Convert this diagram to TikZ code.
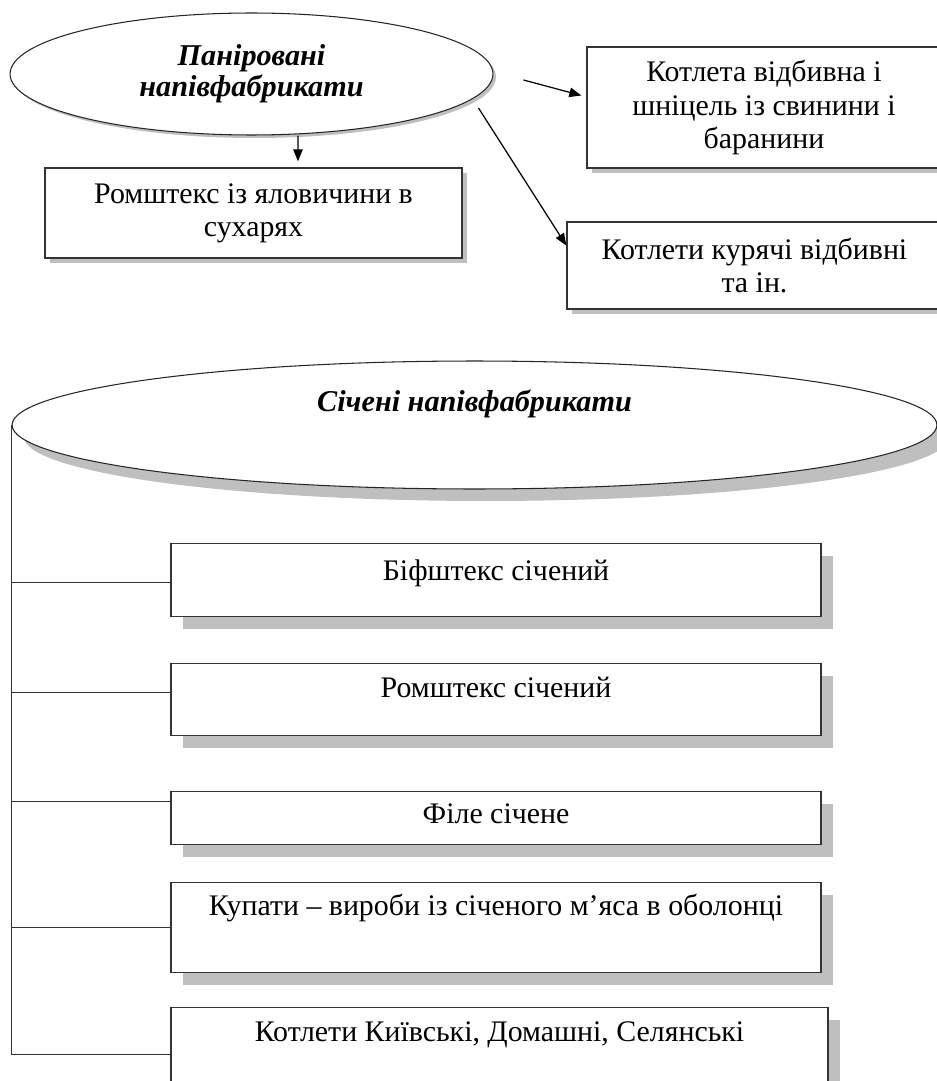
\documentclass[tikz,border=0pt]{standalone}
\usepackage{fontspec}
\setmainfont{Liberation Serif}
\usetikzlibrary{arrows.meta,positioning,shapes.geometric,shadows}

\begin{document}
\begin{tikzpicture}[
    x=0.02cm, y=-0.02cm,
    every node/.style={font=\fontsize{17pt}{18.8pt}\selectfont},
    shad/.style={drop shadow={shadow xshift=#1, shadow yshift=-#1, fill=black!25, opacity=1}},
    oval/.style={ellipse, draw=black!85, line width=0.6pt, fill=white, inner sep=0pt, align=center,
                 font=\fontsize{17.2pt}{17.4pt}\selectfont\bfseries\itshape},
    box/.style={rectangle, draw=black!80, line width=0.8pt, fill=white, inner sep=0pt, align=center},
    arr/.style={-{Triangle[length=2.4mm, width=1.9mm]}, line width=0.7pt},
    link/.style={draw=black!80, line width=0.8pt}
]
    \useasboundingbox (0,0) rectangle (936,1081);

    % panirovani
    \node[oval, shad=0.06cm, minimum width=9.66cm, minimum height=2.44cm] (pan) at (251.5,74)
        {Паніровані\\напівфабрикати};
    \node[box, shad=0.1cm, minimum width=8.34cm, minimum height=1.8cm] (rom) at (253.5,213)
        {Ромштекс із яловичини в\\сухарях};
    \node[box, shad=0.1cm, minimum width=7.08cm, minimum height=2.42cm] (kotbar) at (764,107.5)
        {Котлета відбивна і\\шніцель із свинини і\\баранини};
    \node[box, shad=0.1cm, minimum width=7.5cm, minimum height=1.74cm] (kurka) at (754.5,265.5)
        {Котлети курячі відбивні\\та ін.};

    \draw[arr] ([xshift=0.93cm, yshift=-0.0cm]pan.south) -- ([xshift=0.89cm, yshift=0.12cm]rom.north);
    \draw[arr] ([shift={(30,6)}]pan.east) -- ([shift={(-5,-12)}]kotbar.west);
    \draw[arr] ([shift={(-15,34)}]pan.east) -- ([shift={(0,-20)}]kurka.west);

    % sicheni
    \node[oval, shad=0.24cm, minimum width=18.5cm, minimum height=2.56cm,
          text height=0.5cm, text depth=1.06cm] (sich) at (474.5,425) {Січені напівфабрикати};

    \node[box, shad=0.24cm, anchor=north, minimum width=13cm, text height=0.74cm, text depth=0.72cm]
        (bif) at (496,543) {Біфштекс січений};
    \node[box, shad=0.24cm, anchor=north, minimum width=13cm, text height=0.68cm, text depth=0.76cm]
        (romsich) at (496,663) {Ромштекс січений};
    \node[box, shad=0.24cm, anchor=north, minimum width=13cm, text height=0.64cm, text depth=0.42cm]
        (file) at (496,791) {Філе січене};
    \node[box, shad=0.24cm, anchor=north, minimum width=13cm, text height=0.66cm, text depth=1.14cm]
        (kupaty) at (496,882) {Купати – вироби із січеного м’яса в оболонці};
    \node[box, shad=0.24cm, anchor=north, minimum width=13.14cm, text height=0.68cm, text depth=1.18cm]
        (kyiv) at (499.5,1007) {Котлети Київські, Домашні, Селянські};

    \draw[link] (sich.west) |- (kyiv.west);
    \foreach \b/\dy in {bif/-0.05, romsich/0.14, file/0.33, kupaty/0}{
        \coordinate (j) at ([yshift=\dy cm]\b.west);
        \draw[link] (j) -- (sich.west |- j);
    }
\end{tikzpicture}
\end{document}
